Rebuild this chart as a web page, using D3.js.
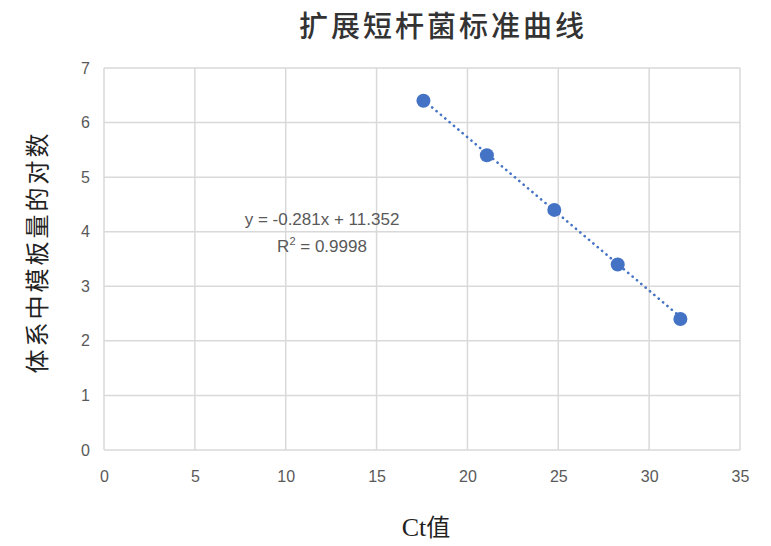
<!DOCTYPE html>
<html>
<head>
<meta charset="utf-8">
<script src="https://cdn.jsdelivr.net/npm/d3@7"></script>
<style>
  body { margin: 0; background: #fff; }
  svg { display: block; }
</style>
</head>
<body>
<div id="chart"></div>
<script>
// data
const ctValues = [17.58, 21.07, 24.78, 28.27, 31.72];
const logValues = [6.4, 5.4, 4.4, 3.4, 2.4];
const xTicks = [0, 5, 10, 15, 20, 25, 30, 35];
const yTicks = [0, 1, 2, 3, 4, 5, 6, 7];
const slope = -0.281, intercept = 11.352;
const eqLines = ["y = -0.281x + 11.352", "R² = 0.9998"];

const W = 771, H = 546;
const m = {left: 104, right: 31, top: 68, bottom: 96};
const blue = "#4472C4", grey = "#595959";

const svg = d3.select("#chart").append("svg")
    .attr("width", W).attr("height", H);

const x = d3.scaleLinear().domain([0, 35]).range([m.left, W - m.right]);
const y = d3.scaleLinear().domain([0, 7]).range([H - m.bottom, m.top]);

// gridlines
svg.append("g").selectAll("line.vg").data(xTicks).join("line")
    .attr("x1", d => x(d)).attr("x2", d => x(d))
    .attr("y1", y(0)).attr("y2", y(7))
    .attr("stroke", "#d9d9d9").attr("stroke-width", 1.5);
svg.append("g").selectAll("line.hg").data(yTicks).join("line")
    .attr("x1", x(0)).attr("x2", x(35))
    .attr("y1", d => y(d)).attr("y2", d => y(d))
    .attr("stroke", "#d9d9d9").attr("stroke-width", 1.5);

// axes (labels only)
const xAxis = svg.append("g").attr("transform", `translate(0,${y(0)})`)
    .call(d3.axisBottom(x).tickValues(xTicks).tickFormat(d3.format("d")).tickSize(0).tickPadding(21));
const yAxis = svg.append("g").attr("transform", `translate(${x(0)},0)`)
    .call(d3.axisLeft(y).tickValues(yTicks).tickFormat(d3.format("d")).tickSize(0).tickPadding(14));
[xAxis, yAxis].forEach(a => {
  a.select(".domain").remove();
  a.selectAll("text").attr("fill", grey)
    .style("font-family", "'Liberation Sans', Arial, sans-serif").style("font-size", "16px");
});

// trendline over the data range
const x0 = d3.min(ctValues), x1 = d3.max(ctValues);
svg.append("line")
    .attr("x1", x(x0)).attr("y1", y(slope * x0 + intercept))
    .attr("x2", x(x1)).attr("y2", y(slope * x1 + intercept))
    .attr("stroke", blue).attr("stroke-width", 2.6)
    .attr("stroke-linecap", "round").attr("stroke-dasharray", "0.1,5.6");

// points
svg.append("g").selectAll("circle").data(ctValues).join("circle")
    .attr("cx", d => x(d)).attr("cy", (d, i) => y(logValues[i]))
    .attr("r", 7).attr("fill", blue);

// equation
const eq = svg.append("text").attr("text-anchor", "middle").attr("fill", grey)
    .style("font-family", "'Liberation Sans', Arial, sans-serif").style("font-size", "17px");
eq.append("tspan").attr("x", 322).attr("y", 225).text(eqLines[0]);
const r2 = eq.append("tspan").attr("x", 322).attr("y", 252);
r2.append("tspan").text("R");
r2.append("tspan").attr("dy", -7).style("font-size", "11px").text("2");
r2.append("tspan").attr("dy", 7).text(" = 0.9998");

// title
svg.append("text").attr("x", 443).attr("y", 37).attr("text-anchor", "middle")
    .attr("fill", "#333").style("letter-spacing", "3px").style("font-weight", "500")
    .style("font-family", "'Noto Sans CJK SC', sans-serif").style("font-size", "29px")
    .text("扩展短杆菌标准曲线");

// axis titles
svg.append("text").attr("x", 426).attr("y", 536).attr("text-anchor", "middle")
    .attr("fill", "#222").style("font-size", "26px")
    .call(t => {
      t.append("tspan").style("font-family", "'Liberation Serif', serif").text("Ct");
      t.append("tspan").style("font-family", "'Noto Sans CJK SC', sans-serif").style("font-size", "24px").text("值");
    });
svg.append("text").attr("transform", "translate(46,252) rotate(-90)")
    .attr("text-anchor", "middle").attr("fill", "#222")
    .style("font-family", "'Noto Sans CJK SC', sans-serif").style("font-size", "24px")
    .style("letter-spacing", "3px")
    .text("体系中模板量的对数");
</script>
</body>
</html>
